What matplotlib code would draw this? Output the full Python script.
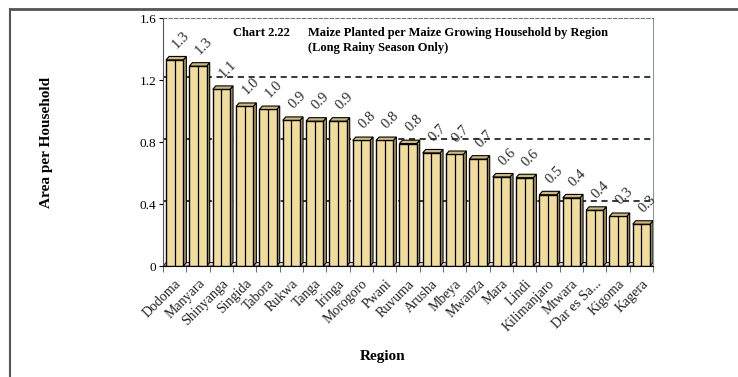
import numpy as np
import matplotlib as mpl
mpl.use('Agg')
import matplotlib.pyplot as plt
from matplotlib.patches import Polygon
from matplotlib.lines import Line2D
import matplotlib.transforms as mtransforms

mpl.rcParams.update({'font.family': 'Liberation Serif'})

# data
regions = ['Dodoma', 'Manyara', 'Shinyanga', 'Singida', 'Tabora', 'Rukwa',
           'Tanga', 'Iringa', 'Morogoro', 'Pwani', 'Ruvuma', 'Arusha',
           'Mbeya', 'Mwanza', 'Mara', 'Lindi', 'Kilimanjaro', 'Mtwara',
           'Dar es Sa...', 'Kigoma', 'Kagera']
area = [1.33, 1.29, 1.14, 1.03, 1.01, 0.94, 0.935, 0.935, 0.81, 0.81, 0.79,
        0.73, 0.72, 0.69, 0.575, 0.57, 0.46, 0.44, 0.36, 0.32, 0.27]
yticks = [0, 0.4, 0.8, 1.2, 1.6]
ytick_labels = ['0', '0.4', '0.8', '1.2', '1.6']

front = '#F0DC9C'
side = '#B09C64'
top = '#CDB97E'


def main():
    fig = plt.figure(figsize=(7.38, 3.77), dpi=100)
    ax = fig.add_axes([0.2209, 0.2944, 0.6640, 0.6578])

    x = np.arange(len(regions))
    w = 0.74
    dx, dy = 0.13, 0.022

    # gridlines on back wall
    for g in yticks[1:-1]:
        ax.axhline(g + dy, color='black', lw=1.1, ls=(0, (4, 3)), zorder=0)

    # floor slab
    ax.add_patch(Polygon([(-0.5, 0), (len(regions) - 0.5, 0),
                          (len(regions) - 0.5 + dx, dy), (-0.5 + dx, dy)],
                         closed=True, fc='#D8D8D8', ec='black', lw=0.6,
                         zorder=1))

    ax.bar(x, area, width=w, color=front, edgecolor='black', lw=1.0,
           zorder=3)
    ax.vlines(x, 0, area, color='black', lw=0.9, zorder=4)
    for xi, v in zip(x, area):
        r = xi + w / 2
        l = xi - w / 2
        ax.add_patch(Polygon([(r, 0), (r + dx, dy), (r + dx, v + dy), (r, v)],
                             closed=True, fc=side, ec='black', lw=0.8,
                             zorder=2))
        ax.add_patch(Polygon([(l, v), (r, v), (r + dx, v + dy),
                              (l + dx, v + dy)],
                             closed=True, fc=top, ec='black', lw=0.8,
                             zorder=3))
        ax.annotate(f'{v:.1f}', xy=(xi, v + dy), xytext=(3, 4),
                    textcoords='offset points', rotation=45,
                    rotation_mode='anchor', ha='left', va='bottom',
                    fontsize=10.5, color='#2a2a2a')

    ax.set_xlim(-0.5, len(regions) - 0.5)
    ax.set_ylim(0, 1.6)
    ax.set_yticks(yticks)
    ax.set_yticklabels(ytick_labels, fontsize=9.5)
    ax.set_xticks(x)
    ax.set_xticklabels(regions, rotation=45, ha='right',
                       rotation_mode='anchor', fontsize=10, color='#222222')
    # shift the category labels a bit to the left, like the original
    shift = mtransforms.ScaledTranslation(-13 / 100, 0, fig.dpi_scale_trans)
    for lab in ax.get_xticklabels():
        lab.set_transform(lab.get_transform() + shift)
    ax.set_xticks(np.arange(len(regions) + 1) - 0.5, minor=True)
    ax.tick_params(axis='x', which='major', length=0, pad=8)
    ax.tick_params(axis='x', which='minor', length=4, color='#555555')
    ax.tick_params(axis='y', length=3, pad=2)

    ax.spines['right'].set_color('#8A9A9A')
    ax.spines['top'].set_color('#6A7A7A')
    ax.spines['top'].set_linestyle((0, (3, 2)))
    ax.spines['left'].set_color('#555555')

    ax.set_ylabel('Area per Household', fontsize=11, fontweight='bold',
                  labelpad=0)
    ax.yaxis.set_label_coords(-0.225, 0.5)
    ax.set_xlabel('Region', fontsize=11, fontweight='bold')
    ax.xaxis.set_label_coords(0.449, -0.34)

    ax.text(0.143, 0.94, 'Chart 2.22', transform=ax.transAxes,
            fontsize=9, fontweight='bold', va='center')
    ax.text(0.296, 0.94, 'Maize Planted per Maize Growing Household by Region',
            transform=ax.transAxes, fontsize=9, fontweight='bold',
            va='center')
    ax.text(0.296, 0.88, '(Long Rainy Season Only)',
            transform=ax.transAxes, fontsize=9, fontweight='bold',
            va='center')

    # outer page frame
    fig.add_artist(Line2D([0.0136, 1.0], [0.976, 0.976], color='#555555',
                          lw=2, transform=fig.transFigure))
    fig.add_artist(Line2D([0.0136, 0.0136], [0.0, 0.976], color='#555555',
                          lw=1.5, transform=fig.transFigure))

    fig.savefig('out.png', dpi=100)
    plt.close(fig)


if __name__ == "__main__":
    main()
